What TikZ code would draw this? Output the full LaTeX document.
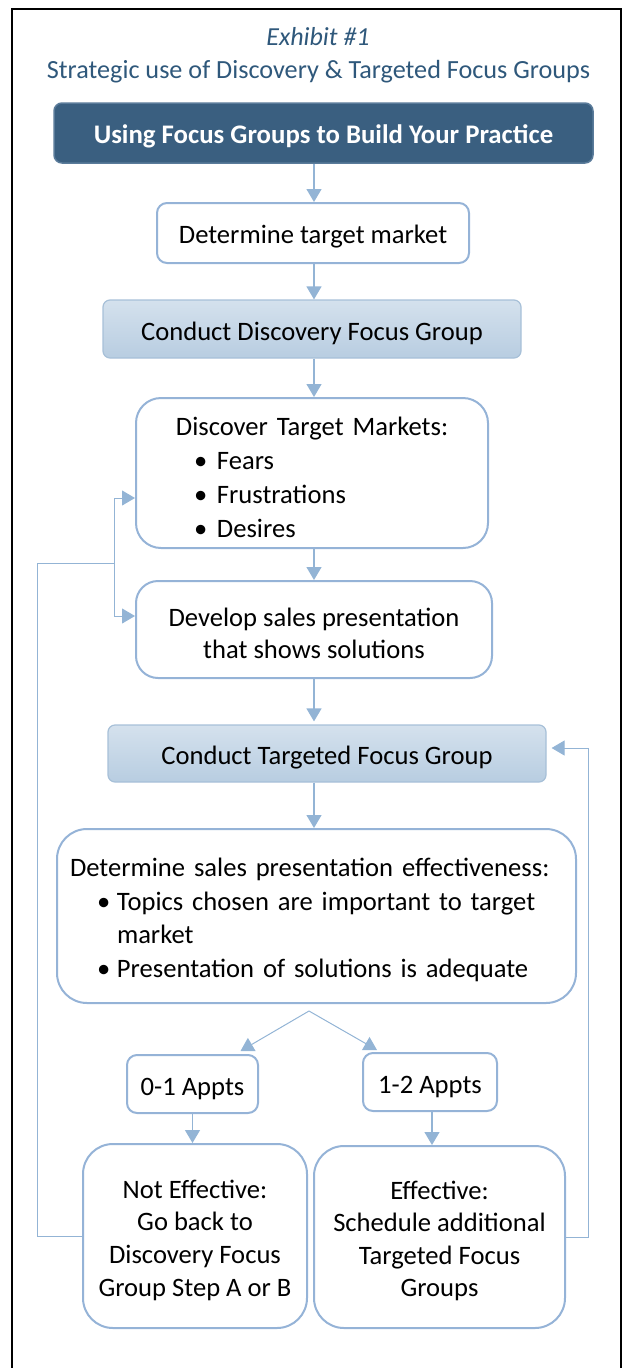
\documentclass[tikz,border=0pt]{standalone}
\usepackage{fontspec}
\setmainfont{Carlito}
\usetikzlibrary{arrows.meta,calc}
\definecolor{edge}{HTML}{95B3D7}
\definecolor{flow}{HTML}{93B4D5}
\definecolor{navy}{HTML}{3A5F80}
\definecolor{navyedge}{HTML}{5A7B9A}
\definecolor{titleblue}{HTML}{2F587B}
\definecolor{shadetop}{HTML}{D4E1ED}
\definecolor{shadebot}{HTML}{B8CDE1}
\definecolor{shadeedge}{HTML}{A7C0D8}
% strut that lowers the text block a little inside its box
\newcommand\lowstrut{\rule{0pt}{26.5pt}}
\newcommand\bulletitem[2]{\noindent\hspace*{#1}\makebox[#2][l]{•}}
\begin{document}
\begin{tikzpicture}[x=1pt,y=-1pt,
  every node/.style={font=\fontsize{26.6}{33.5}\selectfont, inner sep=0pt},
  whitebox/.style={draw=edge, line width=2pt, fill=white, rounded corners=#1},
  shadebox/.style={draw=shadeedge, line width=1.2pt, top color=shadetop,
    bottom color=shadebot, rounded corners=7pt, align=center},
  headbox/.style={draw=navyedge, line width=1.5pt, fill=navy, text=white,
    font=\fontsize{26.8}{30}\selectfont\bfseries, rounded corners=8pt, align=center},
  flowline/.style={draw=flow, line width=1pt},
  flowarrow/.style={draw=flow, line width=1.3pt,
    -{Triangle[width=15pt,length=13pt,fill=flow]}}]
\useasboundingbox (0,0) rectangle (629,1368);

% open frame around the exhibit
\draw[line width=1.5pt] (12,1375) -- (12,9) -- (621,9) -- (621,1375);

% headings
\node[font=\fontsize{26}{30}\selectfont\itshape, text=titleblue] (exh) at (318,37) {Exhibit \#1};
\node[font=\fontsize{26.2}{30}\selectfont, text=titleblue] (ttl) at (318.5,72)
  {Strategic use of Discovery \& Targeted Focus Groups};

% flow boxes
\node[headbox, minimum width=539pt, minimum height=60pt] (head) at (323.5,133)
  {\lowstrut Using Focus Groups to Build Your Practice};
\node[whitebox=10pt, align=center, minimum width=312pt, minimum height=60pt] (tm) at (313,233)
  {\lowstrut Determine target market};
\node[shadebox, minimum width=418pt, minimum height=58pt] (cdf) at (312,329)
  {\lowstrut Conduct Discovery Focus Group};
\node[whitebox=25pt, text width=352pt, minimum height=150pt,
      font=\fontsize{26.6}{34}\selectfont] (disc) at (312,473)
  {\parindent=0pt\rightskip=0pt plus 1fil\relax
   \noindent\lowstrut\hfill Discover Target Markets:\hfill\null\par
   \bulletitem{58pt}{23pt}Fears\par
   \bulletitem{58pt}{23pt}Frustrations\par
   \bulletitem{58pt}{23pt}Desires\par};
\node[whitebox=22pt, align=center, minimum width=356pt, minimum height=97pt,
      font=\fontsize{26.6}{32.5}\selectfont] (dev) at (314,629.5)
  {\lowstrut Develop sales presentation\\that shows solutions};
\node[shadebox, minimum width=438pt, minimum height=57pt] (ctf) at (327,753.5)
  {\lowstrut Conduct Targeted Focus Group};
\node[whitebox=30pt, text width=519pt, minimum height=174pt,
      font=\fontsize{26.6}{33.7}\selectfont] (eff) at (316.5,916)
  {\parindent=0pt\rightskip=0pt plus 1fil\relax
   \noindent\lowstrut\hspace*{13pt}Determine sales presentation effectiveness:\par
   \bulletitem{40pt}{20pt}Topics chosen are important to target\par
   \noindent\hspace*{60pt}market\par
   \bulletitem{40pt}{20pt}Presentation of solutions is adequate\par};
\node[whitebox=10pt, align=center, minimum width=131pt, minimum height=58pt] (a01) at (192.5,1084)
  {\lowstrut 0-1 Appts};
\node[whitebox=10pt, align=center, minimum width=134pt, minimum height=58pt] (a12) at (430,1082)
  {\lowstrut 1-2 Appts};
\node[whitebox=30pt, align=center, minimum width=224pt, minimum height=184pt,
      font=\fontsize{26.6}{32.7}\selectfont] (ne) at (195,1236)
  {\lowstrut Not Effective:\\Go back to\\Discovery Focus\\Group Step A or B};
\node[whitebox=30pt, align=center, minimum width=251pt, minimum height=182pt,
      font=\fontsize{26.6}{32.5}\selectfont] (ef) at (439.5,1237)
  {\lowstrut Effective:\\Schedule additional\\Targeted Focus\\Groups};

% main column of arrows
\coordinate (col) at (314,0);
\draw[flowarrow] (head.south -| col) -- (tm.north -| col);
\draw[flowarrow] (tm.south -| col) -- (cdf.north -| col);
\draw[flowarrow] (cdf.south -| col) -- (disc.north -| col);
\draw[flowarrow] (disc.south -| col) -- (dev.north -| col);
\draw[flowarrow] (dev.south -| col) -- ([yshift=3pt]ctf.north -| col);
\draw[flowarrow] (ctf.south -| col) -- (eff.north -| col);

% branch into the two outcomes
\coordinate (split) at (309,1011);
\draw[flowarrow, line width=1pt] (split) -- ([xshift=48pt,yshift=3pt]a01.north);
\draw[flowarrow, line width=1pt] (split) -- ([xshift=-53pt,yshift=2pt]a12.north);
\draw[flowarrow] (a01.south) -- (a01.south |- ne.north);
\draw[flowarrow] ([xshift=2pt]a12.south) -- ([xshift=2pt]a12.south |- ef.north);

% loop back to the discovery steps
\coordinate (fbL) at (37,563);
\coordinate (fbJ) at (114,563);
\draw[flowline] (ne.west) -| (fbL) -- (fbJ);
\draw[flowarrow, line width=1pt] (fbJ) |- ([yshift=-25pt]disc.west);
\draw[flowarrow, line width=1pt] (fbJ) |- ([yshift=13.5pt]dev.west);

% loop back to the targeted focus group
\coordinate (fbR) at (588,0);
\draw[flowarrow, line width=1pt, shorten >=5pt] (ef.east) -- (ef.east -| fbR) |- ([yshift=5.5pt]ctf.east);
\end{tikzpicture}
\end{document}
